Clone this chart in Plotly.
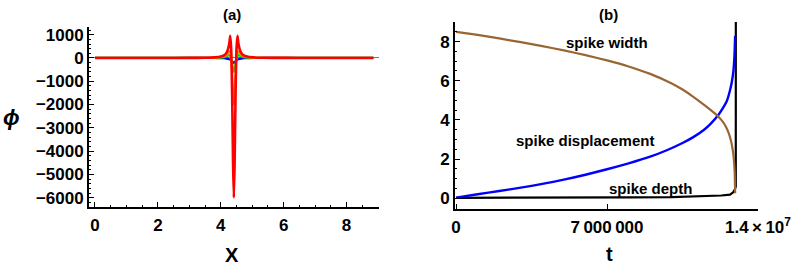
import plotly.graph_objects as go

W, H = 797, 266

# ---------- Panel (a) data ----------
xa = [0, 1, 2, 3, 3.5, 3.8, 4.0, 4.1, 4.18, 4.23, 4.27, 4.30, 4.33, 4.36, 4.39, 4.415,
      4.44, 4.47, 4.50, 4.53, 4.56, 4.60, 4.65, 4.73, 4.83, 5.03, 5.33, 6, 7, 8, 8.85]
red = [0, 0, 1, 3, 10, 25, 60, 110, 220, 380, 620, 950, 400, -1500, -4500, -6000,
       -4500, -1500, 400, 950, 620, 380, 220, 110, 60, 25, 10, 3, 1, 0, 0]
orange = [0, 0, 0, 1, 4, 12, 30, 60, 120, 190, 270, 300, 150, -600, -1600, -2000,
          -1600, -600, 150, 300, 270, 190, 120, 60, 30, 12, 4, 1, 0, 0, 0]
green = [0, 0, 0, 0, 1, 4, 15, 35, 70, 105, 120, 80, -50, -250, -480, -600,
         -480, -250, -50, 80, 120, 105, 70, 35, 15, 4, 1, 0, 0, 0, 0]
blue_a = [0, 0, 0, 0, 0, -2, -5, -12, -25, -40, -55, -70, -95, -140, -185, -210,
          -185, -140, -95, -70, -55, -40, -25, -12, -5, -2, 0, 0, 0, 0, 0]

a_yticks = [1000, 0, -1000, -2000, -3000, -4000, -5000, -6000]
a_yticktext = ["1000", "0", "\u22121000", "\u22122000", "\u22123000", "\u22124000", "\u22125000", "\u22126000"]
a_xticks = [0, 2, 4, 6, 8]

# ---------- Panel (b) data (t in units of 1e6) ----------
t_width = [0, 1, 2, 3, 4, 5, 6, 7, 8, 9, 10, 10.5, 11, 11.5, 12, 12.3, 12.5, 12.65,
           12.75, 12.83, 12.88, 12.92, 12.94]
width = [8.5, 8.34, 8.16, 7.97, 7.77, 7.55, 7.31, 7.04, 6.73, 6.35, 5.86, 5.55, 5.18,
         4.77, 4.33, 4.0, 3.68, 3.3, 2.92, 2.45, 2.0, 1.3, 0.25]

t_disp = [0, 1, 2, 3, 4, 5, 6, 7, 8, 9, 9.77, 10.5, 11, 11.5, 11.8, 12.16, 12.4,
          12.55, 12.7, 12.79, 12.86, 12.91, 12.94]
disp = [0.03, 0.2, 0.37, 0.54, 0.73, 0.95, 1.2, 1.48, 1.78, 2.12, 2.45, 2.82, 3.12,
        3.5, 3.8, 4.25, 4.65, 4.95, 5.5, 5.96, 6.5, 7.3, 8.3]

t_depth = [0, 2, 4, 6, 8, 10, 11, 11.8, 12.3, 12.7, 12.85, 12.93, 12.97, 12.98]
depth = [0.02, 0.02, 0.02, 0.03, 0.04, 0.06, 0.08, 0.11, 0.14, 0.18, 0.3, 0.45, 0.6, 50]

b_xticks = [0, 7e6, 1.4e7]
b_xticktext = ["0", "7\u2009000\u2009000", "1.4\u2009\u00d7\u200910<sup>7</sup>"]
b_yticks = [0, 2, 4, 6, 8]

FONT = "Liberation Sans"

fig = go.Figure()

# panel (a) curves
fig.add_trace(go.Scatter(x=xa, y=blue_a, mode="lines", line=dict(color="#0000FF", width=2.2, shape="spline", smoothing=0.6), xaxis="x", yaxis="y", showlegend=False))
fig.add_trace(go.Scatter(x=xa, y=green, mode="lines", line=dict(color="#00DD00", width=2.2, shape="spline", smoothing=0.6), xaxis="x", yaxis="y", showlegend=False))
fig.add_trace(go.Scatter(x=xa, y=orange, mode="lines", line=dict(color="#FF8000", width=2.2, shape="spline", smoothing=0.6), xaxis="x", yaxis="y", showlegend=False))
fig.add_trace(go.Scatter(x=xa, y=red, mode="lines", line=dict(color="#FF0000", width=2.6, shape="spline", smoothing=0.6), xaxis="x", yaxis="y", showlegend=False))

# panel (b) curves
fig.add_trace(go.Scatter(x=[t * 1e6 for t in t_depth], y=depth, mode="lines", line=dict(color="#000000", width=2.2), xaxis="x2", yaxis="y2", showlegend=False))
fig.add_trace(go.Scatter(x=[t * 1e6 for t in t_disp], y=disp, mode="lines", line=dict(color="#0000FF", width=2.4, shape="spline", smoothing=0.5), xaxis="x2", yaxis="y2", showlegend=False))
fig.add_trace(go.Scatter(x=[t * 1e6 for t in t_width], y=width, mode="lines", line=dict(color="#996633", width=2.2, shape="spline", smoothing=0.5), xaxis="x2", yaxis="y2", showlegend=False))

tickfont = dict(family=FONT, size=17, color="black", weight="bold")
common = dict(showgrid=False, showline=True, linecolor="black", linewidth=1.8,
              ticks="inside", tickcolor="black", ticklen=5, tickwidth=1.2,
              tickfont=tickfont, mirror=False, automargin=False)

fig.update_layout(
    width=W, height=H,
    margin=dict(l=0, r=0, t=0, b=0, autoexpand=False),
    paper_bgcolor="white", plot_bgcolor="white",
    xaxis=dict(domain=[89 / W, 379 / W], range=[-0.19, 9.03], tickvals=a_xticks,
               zeroline=False, anchor="y", ticklabelstandoff=2,
               minor=dict(dtick=0.5, ticklen=2.5, ticks="inside", tickcolor="black", tick0=0),
               **common),
    yaxis=dict(domain=[1 - 207 / H, 1 - 27 / H], range=[-6400, 1330], tickvals=a_yticks,
               ticktext=a_yticktext, anchor="x", zeroline=True, zerolinecolor="#777777",
               zerolinewidth=1,
               minor=dict(dtick=200, ticklen=2.5, ticks="inside", tickcolor="black", tick0=0),
               **common),
    xaxis2=dict(domain=[455 / W, 758 / W], range=[-0.05e6, 1.4e7], tickvals=b_xticks,
                ticktext=b_xticktext, zeroline=False, anchor="y2", ticklabelstandoff=2,
                **common),
    yaxis2=dict(domain=[1 - 209 / H, 1 - 22 / H], range=[-0.55, 9.0], tickvals=b_yticks,
                anchor="x2", zeroline=False,
                minor=dict(dtick=0.5, ticklen=2.5, ticks="inside", tickcolor="black", tick0=0),
                **common),
)

def ann(text, px, py, size, italic=False):
    fig.add_annotation(text=text, x=px / W, y=1 - py / H, xref="paper", yref="paper",
                       showarrow=False, xanchor="center", yanchor="middle",
                       font=dict(family=FONT, size=size, color="black", weight="bold",
                                 style="italic" if italic else "normal"))

ann("(a)", 232, 15, 15)
ann("(b)", 608, 15, 15)
ann("\u03d5", 11, 118, 22, italic=True)
ann("X", 232, 255, 20)
ann("t", 609, 254, 20)
ann("spike width", 607, 42, 15)
ann("spike displacement", 585, 140, 15)
ann("spike depth", 650, 188, 15)

fig.write_html("out.html", config={"displayModeBar": False},
               post_script="document.body.style.margin='0';document.body.style.padding='0';")
